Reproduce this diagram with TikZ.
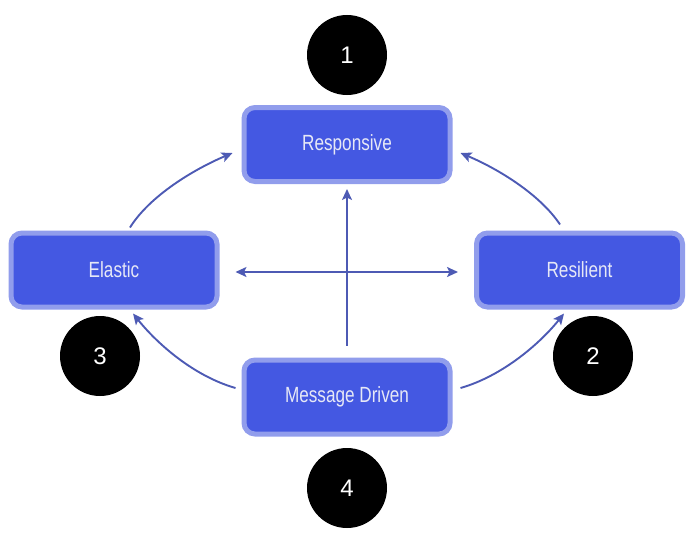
\documentclass[tikz,border=0pt]{standalone}
\usepackage{fontspec}
\newfontfamily\boxfont{Liberation Sans}[FakeStretch=0.78]
\newfontfamily\numfont{Liberation Sans}
\usetikzlibrary{arrows.meta,calc}
\definecolor{boxfill}{HTML}{4458E2}
\definecolor{boxedge}{HTML}{919DEC}
\definecolor{boxtext}{HTML}{E6E8F6}
\definecolor{arrowcol}{HTML}{4D5AB4}
\tikzset{
  rbox/.style={draw=boxedge, fill=boxfill, line width=5pt, rounded corners=11pt,
    minimum width=206pt, minimum height=74pt, inner sep=0pt,
    text=boxtext, font=\boxfont\fontsize{22}{24}\selectfont},
  badge/.style={circle, fill=black, minimum size=80pt, inner sep=0pt,
    text=white, font=\numfont\fontsize{24}{26}\selectfont},
  conn/.style={draw=arrowcol, line width=1.9pt, -{Stealth[length=11pt,width=10pt,inset=2.5pt]}},
  conn2/.style={draw=arrowcol, line width=1.9pt, {Stealth[length=11pt,width=10pt,inset=2.5pt]}-{Stealth[length=11pt,width=10pt,inset=2.5pt]}}
}
\begin{document}
\begin{tikzpicture}[x=1pt,y=-1pt]
\useasboundingbox (0,0) rectangle (698,551);
\node[rbox] (resp) at (347,144.5) {Responsive};
\node[rbox] (el) at (114,270) {Elastic};
\node[rbox] (res) at (579.5,270) {Resilient};
\node[rbox] (msg) at (347,397) {Message Driven};
\node[badge] (b1) at (347,55) {1};
\node[badge] (b2) at (593,356) {2};
\node[badge] (b3) at (100,356) {3};
\node[badge] (b4) at (347,488) {4};
% curved connectors
\draw[conn] ($(el.north)+(16,-3)$) .. controls +(20,-32) and +(-38,16) .. ($(resp.west)+(-9,8.5)$);
\draw[conn] ($(res.north)+(-19.5,-6)$) .. controls +(-20,-30) and +(38,16) .. ($(resp.east)+(8,8.5)$);
\draw[conn] ($(msg.west)+(-6,-9)$) .. controls +(-42,-12) and +(24,30) .. ($(el.south)+(19,4)$);
\draw[conn] ($(msg.east)+(8,-9)$) .. controls +(42,-12) and +(-24,30) .. ($(res.south)+(-15.5,4)$);
% cross
\draw[conn] ($(msg.north)+(0,-12)$) -- ($(resp.south)+(0,5)$);
\draw[conn2] ($(el.east)+(16,2)$) -- ($(res.west)+(-16,2)$);
\end{tikzpicture}
\end{document}
